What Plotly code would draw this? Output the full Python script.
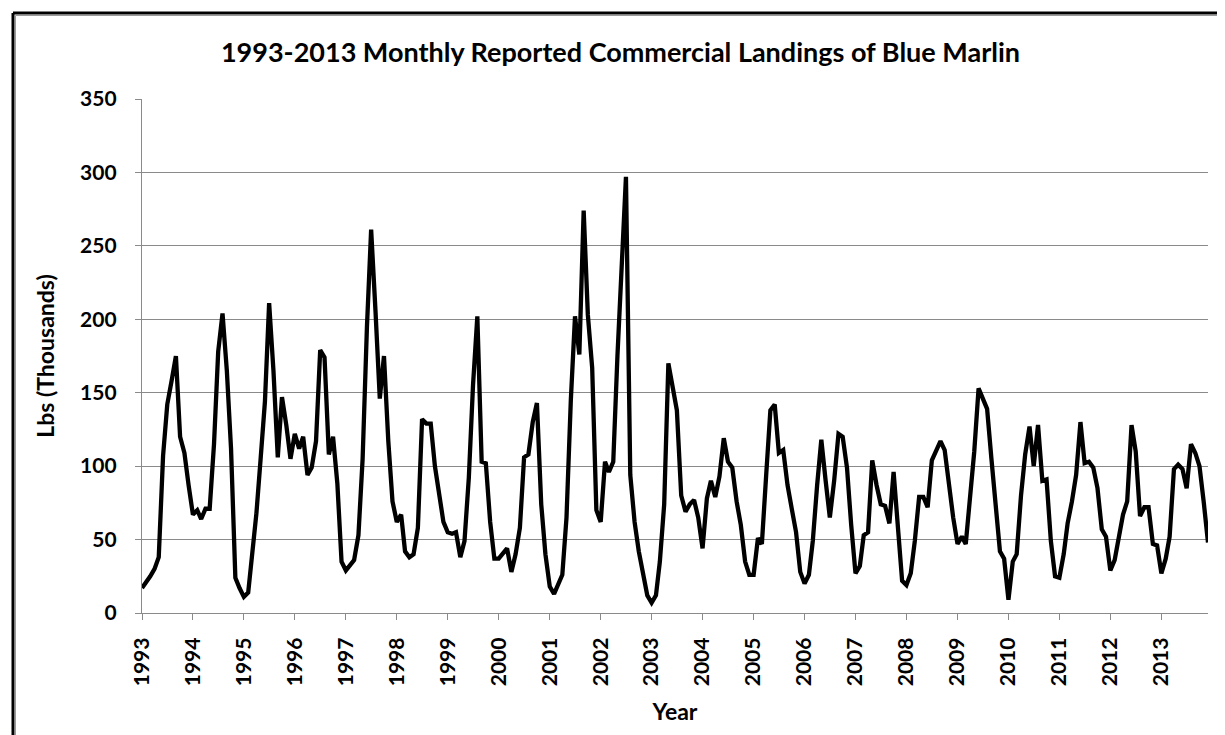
import pandas as pd
import plotly.graph_objects as go

# Monthly landings (thousands of lbs), Jan 1993 .. Dec 2013
y1993 = [17, 21, 25, 30, 38, 107, 142, 158, 175, 120, 109, 87]
y1994 = [67, 70, 64, 71, 71, 115, 178, 204, 165, 112, 24, 17]
y1995 = [11, 14, 37, 68, 105, 144, 211, 165, 106, 147, 128, 105]
y1996 = [122, 112, 120, 94, 99, 117, 179, 174, 108, 120, 88, 35]
y1997 = [29, 33, 36, 53, 105, 195, 261, 206, 146, 175, 117, 76]
y1998 = [62, 67, 42, 38, 40, 58, 132, 129, 129, 100, 78, 62]
y1999 = [55, 54, 55, 38, 49, 92, 155, 202, 103, 102, 62, 37]
y2000 = [37, 41, 44, 28, 40, 58, 106, 108, 130, 143, 74, 40]
y2001 = [18, 13, 20, 26, 65, 145, 202, 176, 274, 203, 167, 70]
y2002 = [62, 103, 96, 103, 175, 240, 297, 94, 62, 42, 26, 12]
y2003 = [7, 12, 35, 74, 170, 155, 138, 80, 69, 74, 77, 65]
y2004 = [44, 78, 90, 79, 93, 119, 103, 99, 76, 60, 35, 26]
y2005 = [26, 51, 47, 94, 138, 142, 109, 111, 87, 71, 55, 28]
y2006 = [20, 26, 49, 87, 118, 90, 65, 90, 122, 120, 99, 60]
y2007 = [27, 32, 53, 55, 104, 87, 74, 73, 61, 96, 60, 22]
y2008 = [19, 27, 49, 79, 79, 72, 104, 110, 117, 111, 85, 65]
y2009 = [47, 52, 47, 76, 110, 153, 146, 139, 105, 71, 42, 37]
y2010 = [9, 35, 40, 80, 108, 127, 100, 128, 90, 91, 49, 25]
y2011 = [24, 40, 61, 76, 94, 130, 102, 103, 99, 85, 57, 52]
y2012 = [29, 36, 50, 67, 76, 128, 110, 66, 72, 72, 47, 46]
y2013 = [27, 37, 52, 98, 101, 98, 85, 115, 109, 100, 75, 48]

years = list(range(1993, 2014))
landings = (y1993 + y1994 + y1995 + y1996 + y1997 + y1998 + y1999 + y2000 +
            y2001 + y2002 + y2003 + y2004 + y2005 + y2006 + y2007 + y2008 +
            y2009 + y2010 + y2011 + y2012 + y2013)
months = pd.date_range("1993-01-01", periods=len(landings), freq="MS")
year_ticks = [pd.Timestamp(f"{y}-01-01") for y in years]
year_labels = [str(y) for y in years]

FONT = "Lato"
GRID = "#8a8a8a"

fig = go.Figure()
fig.add_trace(go.Scatter(
    x=months, y=landings, mode="lines",
    line=dict(color="black", width=4.3),
    showlegend=False, hoverinfo="x+y"))

W, H = 1225, 735
L, R, T, B = 134, 25, 91, 130
pw, ph = W - L - R, H - T - B

def px(x, y):
    return (x - L) / pw, (H - B - y) / ph

# chart-area frame (only top and left edges fall inside the picture)
fx0, fy_top = px(5, 5)
fx1, fy_bot = px(1300, 800)
gx0, gy_top = px(7.5, 7.5)

shapes = [
    dict(type="line", xref="paper", yref="paper", x0=fx0, y0=fy_top, x1=fx1, y1=fy_top,
         line=dict(color="black", width=3)),
    dict(type="line", xref="paper", yref="paper", x0=fx0, y0=fy_top, x1=fx0, y1=fy_bot,
         line=dict(color="black", width=3)),
    dict(type="line", xref="paper", yref="paper", x0=gx0, y0=gy_top, x1=fx1, y1=gy_top,
         line=dict(color="#9a9a9a", width=1)),
    dict(type="line", xref="paper", yref="paper", x0=gx0, y0=gy_top, x1=gx0, y1=fy_bot,
         line=dict(color="#9a9a9a", width=1)),
]

fig.update_layout(
    width=W, height=H,
    margin=dict(l=L, r=R, t=T, b=B),
    paper_bgcolor="white", plot_bgcolor="white",
    font=dict(family=FONT, color="black"),
    title=dict(
        text="1993-2013 Monthly Reported Commercial Landings of Blue Marlin",
        font=dict(family=FONT, size=27, color="black", weight="bold"),
        x=0.5, xref="container", xanchor="center",
        y=(H - 45) / H, yref="container", yanchor="middle"),
    xaxis=dict(
        range=[months[0], months[-1]],
        tickmode="array", tickvals=year_ticks, ticktext=year_labels,
        tickangle=-90,
        tickfont=dict(family=FONT, size=21, color="black", weight="bold"),
        ticks="outside", ticklen=6, tickcolor=GRID, tickwidth=1.3,
        ticklabelstandoff=9,
        showline=True, linecolor=GRID, linewidth=1.3,
        showgrid=False, zeroline=False,
        title=dict(text="Year", standoff=18,
                   font=dict(family=FONT, size=23, color="black", weight="bold"))),
    yaxis=dict(
        range=[0, 350], tickmode="linear", tick0=0, dtick=50,
        tickfont=dict(family=FONT, size=21, color="black", weight="bold"),
        ticks="outside", ticklen=6, tickcolor=GRID, tickwidth=1.3,
        showline=True, linecolor=GRID, linewidth=1.3,
        showgrid=True, gridcolor=GRID, gridwidth=1.3,
        zeroline=False, ticklabelstandoff=14,
        title=dict(text="Lbs (Thousands)", standoff=19,
                   font=dict(family=FONT, size=23, color="black", weight="bold"))),
    shapes=shapes,
)

fig.write_html("out.html")
